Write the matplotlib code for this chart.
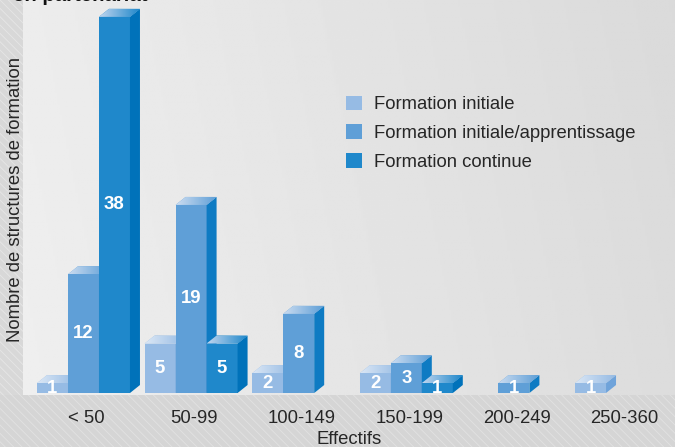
import numpy as np
import matplotlib.pyplot as plt
from matplotlib.patches import Polygon, Rectangle
from matplotlib.colors import LinearSegmentedColormap

plt.rcParams['font.family'] = ['Liberation Sans', 'DejaVu Sans']
plt.rcParams['hatch.linewidth'] = 0.6

categories = ['< 50', '50-99', '100-149', '150-199', '200-249', '250-360']
series_names = ['Formation initiale', 'Formation initiale/apprentissage', 'Formation continue']
initiale = [1, 5, 2, 2, 0, 1]
apprentissage = [12, 19, 8, 3, 1, 0]
continue_ = [38, 5, 0, 1, 0, 0]
series = [initiale, apprentissage, continue_]

front_colors = ['#96bbe4', '#5f9fd7', '#1f88cb']
side_colors = ['#6fa3da', '#0e7bc3', '#0072ba']
top_light = ['#dbe7f5', '#cbdcf0', '#c0d5ee']
text_color = '#262626'

W, H = 675, 447
fig = plt.figure(figsize=(W / 100, H / 100), dpi=100)

# background: soft grey gradient with hatched margins
bg = fig.add_axes([0, 0, 1, 1], zorder=-10)
yy, xx = np.mgrid[0:1:200j, 0:1:300j]
grad = 0.94 - 0.075 * xx - 0.01 * (1 - yy)
bg.imshow(grad, cmap='gray', vmin=0, vmax=1, extent=(0, 1, 0, 1), aspect='auto')
bg.add_patch(Rectangle((0, 0), 23 / W, 1, facecolor='#d8d8d8', edgecolor='#e6e6e6',
                       hatch='\\\\\\\\', linewidth=0))
bg.add_patch(Rectangle((0, 0), 1, (H - 395) / H, facecolor='#d5d5d5', edgecolor='#e2e2e2',
                       hatch='\\\\\\\\', linewidth=0))
bg.set_xlim(0, 1)
bg.set_ylim(0, 1)
bg.axis('off')

ax = fig.add_axes([23 / W, (H - 395) / H, (W - 23) / W, 395 / H])
ax.set_facecolor('none')
xmin, xmax = -0.562, 5.497
ymin, ymax = -0.2, 39.7
ax.set_xlim(xmin, xmax)
ax.set_ylim(ymin, ymax)

w = 0.288               # bar width (group units)
dx = 10 / 107.6         # depth offset, x
dy = 8 / 9.9            # depth offset, y


def draw_bar(x0, h, k, z):
    ax.bar(x0, h, width=w, align='edge', color=front_colors[k], linewidth=0, zorder=z)
    side = Polygon([(x0 + w, 0), (x0 + w + dx, dy), (x0 + w + dx, h + dy), (x0 + w, h)],
                   closed=True, facecolor=side_colors[k], linewidth=0, zorder=z)
    ax.add_patch(side)
    top = Polygon([(x0, h), (x0 + w, h), (x0 + w + dx, h + dy), (x0 + dx, h + dy)],
                  closed=True, facecolor=front_colors[k], linewidth=0, zorder=z)
    ax.add_patch(top)
    cmap = LinearSegmentedColormap.from_list('top', [top_light[k], front_colors[k]])
    im = ax.imshow(np.linspace(0, 1, 50).reshape(1, -1), cmap=cmap, aspect='auto',
                   extent=(x0, x0 + w + dx, h, h + dy), zorder=z, interpolation='bilinear')
    im.set_clip_path(top)
    ax.text(x0 + w / 2, h / 2, str(h), ha='center', va='center', color='white',
            fontsize=13.4, fontweight='bold', zorder=z + 0.5)


for i in range(len(categories)):
    for k, vals in enumerate(series):
        if vals[i] == 0:
            continue
        x0 = i - 1.5 * w + k * w
        draw_bar(x0, vals[i], k, 2 + i * 3 + k)

ax.set_xlim(xmin, xmax)
ax.set_ylim(ymin, ymax)
for s in ax.spines.values():
    s.set_visible(False)
ax.set_yticks([])
ax.set_xticks(np.arange(len(categories)) + 0.03)
ax.set_xticklabels(categories, fontsize=13.3, color=text_color)
ax.tick_params(axis='x', length=0, pad=11)

fig.text(349 / W, 1 - 443.5 / H, 'Effectifs', ha='center', va='baseline',
         fontsize=13.3, color=text_color)
fig.text(16 / W, 1 - 200 / H, 'Nombre de structures de formation', rotation=90,
         ha='center', va='center', fontsize=13.3, color=text_color)
fig.text(13 / W, 1 - 1 / H, 'en partenariat', fontsize=14.7, fontweight='bold',
         color='#111111', va='baseline', ha='left')

handles = [Rectangle((0, 0), 1, 1, facecolor=c, linewidth=0) for c in front_colors]
ax.legend(handles, series_names, loc='upper left', bbox_to_anchor=(346 / W, 1 - 95.5 / H),
          bbox_transform=fig.transFigure, frameon=False, fontsize=13.3,
          handlelength=0.865, handleheight=0.865, handletextpad=0.65, labelspacing=0.6,
          borderpad=0, borderaxespad=0, labelcolor=text_color)

fig.savefig('out.png', dpi=100)
